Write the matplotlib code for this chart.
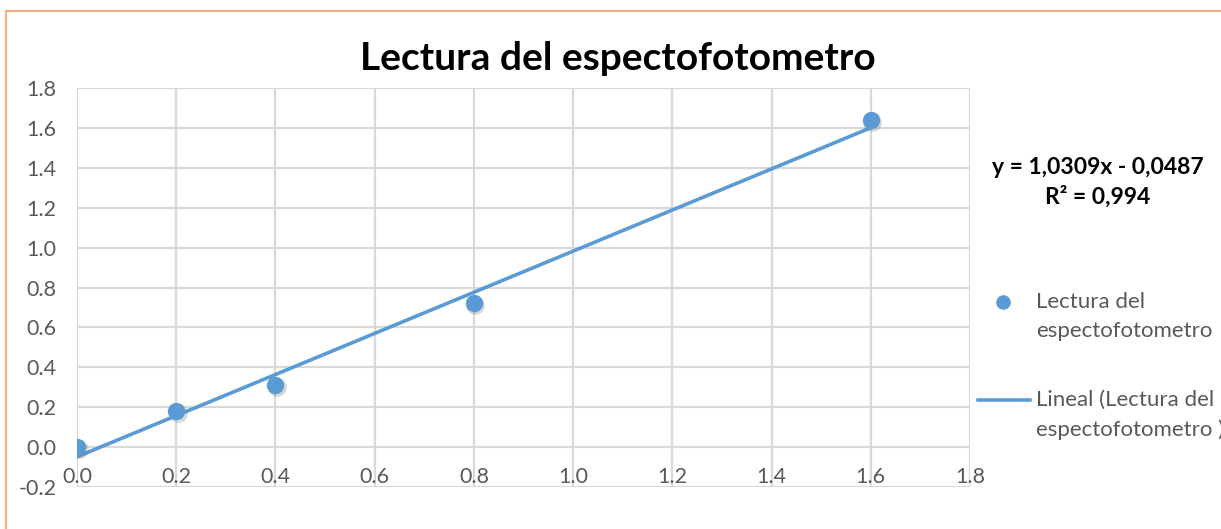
import matplotlib.pyplot as plt
import matplotlib.transforms as mtransforms
from matplotlib.lines import Line2D
from matplotlib.patches import Rectangle
import numpy as np

# Concentration vs absorbance readings
concentracion = [0.0, 0.2, 0.4, 0.8, 1.6]
lectura = [0.0, 0.18, 0.31, 0.72, 1.64]

# Linear trendline reported on the chart
pendiente = 1.0309
intercepto = -0.0487
r2 = 0.994

titulo = 'Lectura del espectofotometro'
xticks = [0.0, 0.2, 0.4, 0.6, 0.8, 1.0, 1.2, 1.4, 1.6, 1.8]
yticks = [-0.2, 0.0, 0.2, 0.4, 0.6, 0.8, 1.0, 1.2, 1.4, 1.6, 1.8]

azul = '#5B9BD5'
gris_texto = '#595959'
gris_rejilla = '#D9D9D9'

plt.rcParams['font.family'] = ['Lato', 'DejaVu Sans']

W, H = 1221, 529
fig = plt.figure(figsize=(W / 100, H / 100), dpi=100)
ax = fig.add_axes([77 / W, 42 / H, (970 - 77) / W, (487 - 88) / H])

ax.set_xlim(0, 1.8)
ax.set_ylim(-0.2, 1.8)
ax.set_xticks(xticks)
ax.set_yticks(yticks)
ax.set_xticklabels([f'{v:.1f}' for v in xticks])
ax.set_yticklabels([f'{v:.1f}' for v in yticks])
ax.grid(True, color=gris_rejilla, linewidth=1.6, zorder=0)
ax.set_axisbelow(True)
for s in ax.spines.values():
    s.set_visible(False)

# horizontal axis crosses at y = 0, labels sit just under it
ax.spines['bottom'].set_position(('data', 0))
ax.tick_params(axis='x', length=0, pad=14, labelsize=15.5, labelcolor=gris_texto)
ax.tick_params(axis='y', length=0, pad=15, labelsize=15.5, labelcolor=gris_texto)

# trendline
xs = np.array([concentracion[0], concentracion[-1]])
ax.plot(xs, pendiente * xs + intercepto, color=azul, linewidth=2.6, zorder=3)

# soft shadow under the markers
sombra = mtransforms.offset_copy(ax.transData, fig=fig, x=1.5, y=-2.0, units='dots')
ax.plot(concentracion, lectura, 'o', color='#7f7f7f', markersize=13.5, alpha=0.3,
        markeredgewidth=0, transform=sombra, zorder=3)
ax.plot(concentracion, lectura, 'o', color=azul, markersize=12.5,
        markeredgewidth=0, zorder=4)

fig.text(618 / W, 1 - 58 / H, titulo, ha='center', va='center',
         fontsize=28, fontweight='bold', color='black')

# trendline equation
fig.text(1098 / W, 1 - 167 / H, f'y = {pendiente:.4f}x - {abs(intercepto):.4f}'.replace('.', ','),
         ha='center', va='center', fontsize=16.5, fontweight='bold', color='black')
fig.text(1098 / W, 1 - 197 / H, f'R² = {r2:.3f}'.replace('.', ','),
         ha='center', va='center', fontsize=16.5, fontweight='bold', color='black')

# legend entries
fig.add_artist(Line2D([1003 / W], [1 - 302 / H], marker='o', color=azul,
                      markersize=10.5, markeredgewidth=0, linestyle='none'))
fig.text(1036 / W, 1 - 302 / H, 'Lectura del', ha='left', va='center',
         fontsize=16, color=gris_texto)
fig.text(1036 / W, 1 - 331 / H, 'espectofotometro', ha='left', va='center',
         fontsize=16, color=gris_texto)
fig.add_artist(Line2D([978 / W, 1030 / W], [1 - 400 / H, 1 - 400 / H],
                      color=azul, linewidth=2.6))
fig.text(1036 / W, 1 - 400 / H, 'Lineal (Lectura del', ha='left', va='center',
         fontsize=16, color=gris_texto)
fig.text(1036 / W, 1 - 430 / H, 'espectofotometro )', ha='left', va='center',
         fontsize=16, color=gris_texto)

# chart frame
fig.add_artist(Rectangle((6 / W, -0.1), 1.2, (H - 11) / H + 0.1, transform=fig.transFigure,
                         fill=False, edgecolor='#F4B183', linewidth=1.6))

fig.savefig('out.png', dpi=100)
